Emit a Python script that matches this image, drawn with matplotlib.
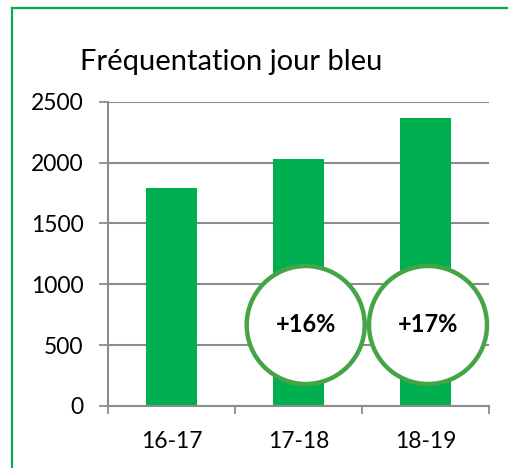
import matplotlib
matplotlib.use("Agg")
import matplotlib.pyplot as plt
from matplotlib.patches import Ellipse
from matplotlib.lines import Line2D

categories = ["16-17", "17-18", "18-19"]
values = [1790, 2030, 2370]
growth_labels = ["+16%", "+17%"]
title = "Fréquentation jour bleu"
y_ticks = [0, 500, 1000, 1500, 2000, 2500]

plt.rcParams['font.family'] = ['Lato', 'DejaVu Sans']

W, H = 508, 468
fig = plt.figure(figsize=(W / 100, H / 100), dpi=100)
ax_l, ax_r, ax_t, ax_b = 108, 489, 101.7, 406
ax = fig.add_axes([ax_l / W, 1 - ax_b / H, (ax_r - ax_l) / W, (ax_b - ax_t) / H])

green = "#00B050"
grid_c = "#8C8C8C"

x = list(range(len(categories)))
ax.bar(x, values, width=0.4, color=green, zorder=2)
ax.set_xlim(-0.5, len(categories) - 0.5)
ax.set_ylim(0, 2500)
ax.set_yticks(y_ticks)
ax.set_yticklabels([str(v) for v in y_ticks])
ax.set_xticks(x)
ax.set_xticklabels(categories)
ax.set_xticks([i - 0.5 for i in range(len(categories) + 1)], minor=True)
ax.tick_params(axis='x', which='major', length=0, pad=18, labelsize=16.5)
ax.tick_params(axis='x', which='minor', length=5.5, width=1.3, color=grid_c, direction='out')
ax.tick_params(axis='y', length=6.5, width=1.3, color=grid_c, pad=11, labelsize=16.5)
ax.yaxis.grid(True, color=grid_c, linewidth=1.5, zorder=0)
ax.set_axisbelow(True)
for s in ["top", "right"]:
    ax.spines[s].set_visible(False)
for s in ["left", "bottom"]:
    ax.spines[s].set_color(grid_c)
    ax.spines[s].set_linewidth(1.5)

# growth circles
aw, ah = ax_r - ax_l, ax_b - ax_t
r = 59
centers = [(305.7, 325), (428, 325)]
for (cx, cy), lab in zip(centers, growth_labels):
    ex = (cx - ax_l) / aw
    ey = (ax_b - cy) / ah
    e = Ellipse((ex, ey), 2 * r / aw, 2 * r / ah, transform=ax.transAxes,
                facecolor="white", edgecolor="#45A445", linewidth=3.2,
                zorder=5, clip_on=False)
    ax.add_patch(e)
    ax.text(ex, ey, lab, transform=ax.transAxes, ha='center', va='center',
            fontsize=17, fontweight='bold', zorder=6)

fig.text(80 / W, 1 - 70 / H, title, fontsize=21, ha='left', va='baseline')

# green frame (left and top edges visible)
fig.add_artist(Line2D([12 / W, 12 / W], [0, 1 - 8 / H], transform=fig.transFigure,
                      color=green, linewidth=1.6))
fig.add_artist(Line2D([12 / W, 1], [1 - 8 / H, 1 - 8 / H], transform=fig.transFigure,
                      color=green, linewidth=1.6))

fig.savefig("out.png", dpi=100)
